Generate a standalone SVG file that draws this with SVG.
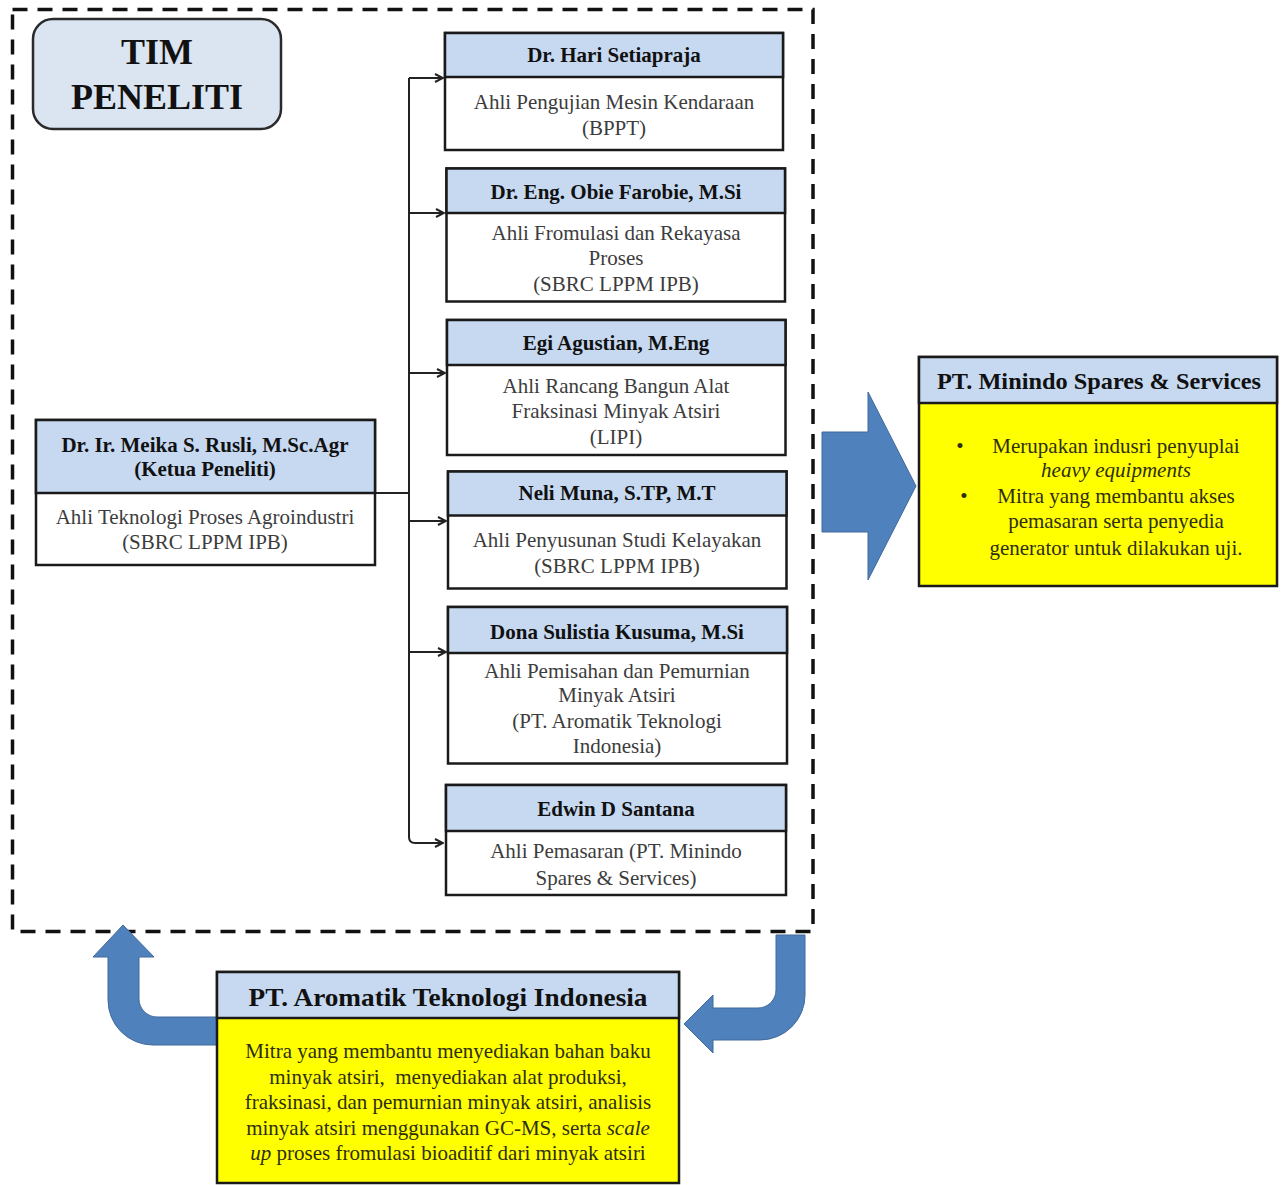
<svg xmlns="http://www.w3.org/2000/svg" width="1288" height="1185" viewBox="0 0 1288 1185">
<defs>
<style>
.frame{fill:none;stroke:#111;stroke-width:3.5;stroke-dasharray:15 10}
.box{fill:#fff;stroke:#1a1a1a;stroke-width:2.5}
.hdr{fill:#c6d9f1;stroke:#1a1a1a;stroke-width:2.5}
.yel{fill:#ffff00;stroke:#1a1a1a;stroke-width:2.5}
.ht{font-family:"Liberation Serif",serif;font-weight:bold;font-size:21px;fill:#111;text-anchor:middle}
.bt{font-family:"Liberation Serif",serif;font-size:21px;fill:#3c3c3c;text-anchor:middle}
.yt{font-family:"Liberation Serif",serif;font-size:21px;fill:#2e2e10;text-anchor:middle}
.conn{fill:none;stroke:#222;stroke-width:2}
.blk{fill:#4f81bd;stroke:#41699a;stroke-width:1}
</style>
<marker id="ah" viewBox="0 0 10 10" refX="9" refY="5" markerWidth="10" markerHeight="10" markerUnits="userSpaceOnUse" orient="auto">
<path d="M1,1 L9,5 L1,9" fill="none" stroke="#222" stroke-width="2"/>
</marker>
</defs>
<rect class="frame" x="12.5" y="9.5" width="800.5" height="922"/>
<g id="tim">
<rect x="33" y="19" width="248" height="110" rx="20" ry="20" fill="#dbe5f1" stroke="#2a2a2a" stroke-width="2.5"/>
<text class="ht" x="157" y="64" style="font-size:36px">TIM</text>
<text class="ht" x="157" y="109" style="font-size:36px">PENELITI</text>
</g>
<g id="connectors">
<path class="conn" d="M375,493 H409"/>
<path class="conn" d="M409,78 V837 Q409,843 415,843 H443" marker-end="url(#ah)"/>
<path class="conn" d="M409,78 H443" marker-end="url(#ah)"/>
<path class="conn" d="M409,213 H444" marker-end="url(#ah)"/>
<path class="conn" d="M409,373 H445" marker-end="url(#ah)"/>
<path class="conn" d="M409,521 H446" marker-end="url(#ah)"/>
<path class="conn" d="M409,652 H446" marker-end="url(#ah)"/>
</g>
<g id="leader">
<rect class="box" x="36" y="420" width="339" height="145"/>
<rect class="hdr" x="36" y="420" width="339" height="73"/>
<text class="ht" x="205" y="452">Dr. Ir. Meika S. Rusli, M.Sc.Agr</text>
<text class="ht" x="205" y="476">(Ketua Peneliti)</text>
<text class="bt" x="205" y="524">Ahli Teknologi Proses Agroindustri</text>
<text class="bt" x="205" y="549">(SBRC LPPM IPB)</text>
</g>
<g id="hari">
<rect class="box" x="445" y="33" width="338" height="117"/>
<rect class="hdr" x="445" y="33" width="338" height="44"/>
<text class="ht" x="614" y="62">Dr. Hari Setiapraja</text>
<text class="bt" x="614" y="109">Ahli Pengujian Mesin Kendaraan</text>
<text class="bt" x="614" y="135">(BPPT)</text>
</g>
<g id="obie">
<rect class="box" x="446.5" y="168.5" width="338.5" height="133"/>
<rect class="hdr" x="446.5" y="168.5" width="338.5" height="44.5"/>
<text class="ht" x="616" y="199">Dr. Eng. Obie Farobie, M.Si</text>
<text class="bt" x="616" y="240">Ahli Fromulasi dan Rekayasa</text>
<text class="bt" x="616" y="265">Proses</text>
<text class="bt" x="616" y="291">(SBRC LPPM IPB)</text>
</g>
<g id="egi">
<rect class="box" x="447" y="320" width="338.5" height="135"/>
<rect class="hdr" x="447" y="320" width="338.5" height="45"/>
<text class="ht" x="616" y="350">Egi Agustian, M.Eng</text>
<text class="bt" x="616" y="393">Ahli Rancang Bangun Alat</text>
<text class="bt" x="616" y="418">Fraksinasi Minyak Atsiri</text>
<text class="bt" x="616" y="444">(LIPI)</text>
</g>
<g id="neli">
<rect class="box" x="448" y="471.5" width="338.5" height="117"/>
<rect class="hdr" x="448" y="471.5" width="338.5" height="44"/>
<text class="ht" x="617" y="500">Neli Muna, S.TP, M.T</text>
<text class="bt" x="617" y="547">Ahli Penyusunan Studi Kelayakan</text>
<text class="bt" x="617" y="573">(SBRC LPPM IPB)</text>
</g>
<g id="dona">
<rect class="box" x="448" y="607" width="339" height="156.5"/>
<rect class="hdr" x="448" y="607" width="339" height="46"/>
<text class="ht" x="617" y="639">Dona Sulistia Kusuma, M.Si</text>
<text class="bt" x="617" y="678">Ahli Pemisahan dan Pemurnian</text>
<text class="bt" x="617" y="702">Minyak Atsiri</text>
<text class="bt" x="617" y="728">(PT. Aromatik Teknologi</text>
<text class="bt" x="617" y="753">Indonesia)</text>
</g>
<g id="edwin">
<rect class="box" x="446" y="785" width="340" height="110"/>
<rect class="hdr" x="446" y="785" width="340" height="46"/>
<text class="ht" x="616" y="816">Edwin D Santana</text>
<text class="bt" x="616" y="858">Ahli Pemasaran (PT. Minindo</text>
<text class="bt" x="616" y="885">Spares &amp; Services)</text>
</g>
<g id="arrow-right">
<polygon class="blk" points="822,432 868,432 868,392 916,486 868,580 868,532 822,532"/>
</g>
<g id="minindo">
<rect class="yel" x="919" y="357" width="358" height="229"/>
<rect class="hdr" x="919" y="357" width="358" height="46"/>
<text class="ht" x="1099" y="389" style="font-size:23px" textLength="324" lengthAdjust="spacingAndGlyphs">PT. Minindo Spares &amp; Services</text>
<text class="yt" x="960" y="453">•</text>
<text class="yt" x="1116" y="453">Merupakan indusri penyuplai</text>
<text class="yt" x="1116" y="477" font-style="italic">heavy equipments</text>
<text class="yt" x="964" y="503">•</text>
<text class="yt" x="1116" y="503">Mitra yang membantu akses</text>
<text class="yt" x="1116" y="528">pemasaran serta penyedia</text>
<text class="yt" x="1116" y="555">generator untuk dilakukan uji.</text>
</g>
<g id="arrow-up-left">
<path class="blk" d="M217,1017 H157 A18,18 0 0 1 139,999 V957 H154 L123,925 L93,957 H108 V1000 A45,45 0 0 0 153,1045 H217 Z"/>
</g>
<g id="arrow-down-right">
<path class="blk" d="M776,935 H805 V995 A45,45 0 0 1 760,1040 H713 V1053 L684,1024 L713,995 V1008 H758 A18,18 0 0 0 776,990 Z"/>
</g>
<g id="aromatik">
<rect class="yel" x="217" y="972" width="462" height="211"/>
<rect class="hdr" x="217" y="972" width="462" height="46"/>
<text class="ht" x="448" y="1006" style="font-size:25px" textLength="399" lengthAdjust="spacingAndGlyphs">PT. Aromatik Teknologi Indonesia</text>
<text class="yt" x="448" y="1058">Mitra yang membantu menyediakan bahan baku</text>
<text class="yt" x="448" y="1084" xml:space="preserve">minyak atsiri,  menyediakan alat produksi,</text>
<text class="yt" x="448" y="1109">fraksinasi, dan pemurnian minyak atsiri, analisis</text>
<text class="yt" x="448" y="1135">minyak atsiri menggunakan GC-MS, serta <tspan font-style="italic">scale</tspan></text>
<text class="yt" x="448" y="1160"><tspan font-style="italic">up</tspan> proses fromulasi bioaditif dari minyak atsiri</text>
</g>
</svg>
